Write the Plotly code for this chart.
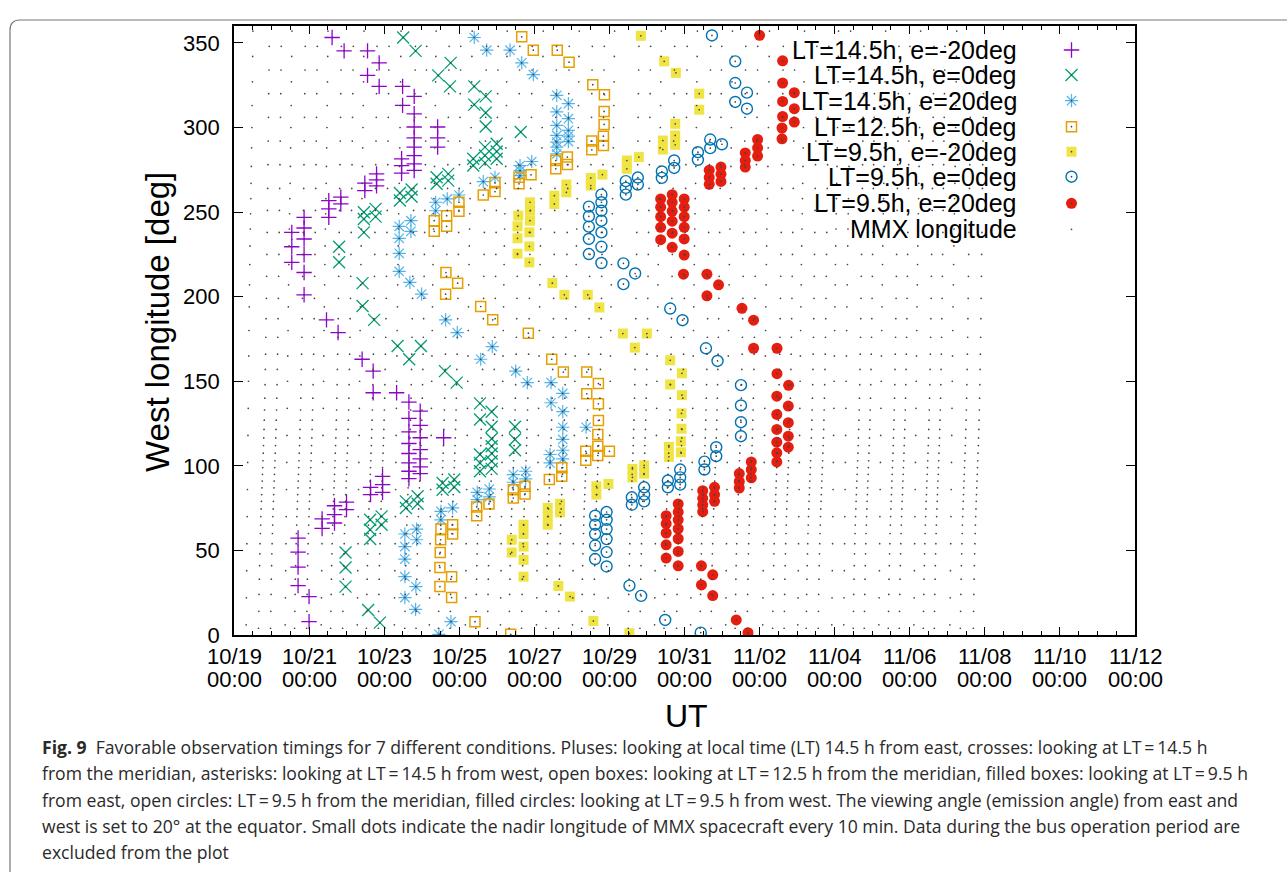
import pandas as pd
import plotly.graph_objects as go

T0 = pd.Timestamp("2024-10-19 00:00")

# ---------------- data: day offset from 10/19 00:00 UT, west longitude [deg] ----------------
# LT=14.5h, e=-20deg (pluses)
s1_day = [2.613, 2.933, 3.557, 3.867, 3.557, 3.867, 4.491, 4.491, 4.8, 4.8,
          4.8, 4.8, 4.8, 4.8, 4.8, 4.8, 4.464, 4.464, 4.464, 5.424, 5.424, 5.424,
          3.797, 3.797, 3.797, 3.485, 3.485, 2.845, 2.845, 2.525, 2.525, 2.525,
          1.867, 1.867, 1.867, 1.867, 1.867, 1.867, 1.539, 1.539, 1.539,
          2.464, 2.773, 3.413, 3.707, 3.707, 4.331, 4.659, 4.96,
          4.659, 4.659, 4.659, 4.659, 4.659, 4.659, 4.659,
          4.96, 4.96, 4.96, 4.96, 4.96, 4.96, 5.584,
          3.957, 3.957, 3.957, 3.637, 3.637, 2.997, 2.997, 2.677, 2.677, 2.677,
          2.347, 2.347, 1.707, 1.707, 1.707, 1.707, 2.0, 2.0]
s1_lon = [353.2, 345.3, 345.3, 338.2, 330.8, 324.3, 324.3, 313.1, 318.4, 308.1,
          300.3, 293.9, 288.4, 283.4, 278.5, 274.6, 281.5, 277.5, 273.0, 300.3, 293.9, 288.4,
          272.6, 269.0, 265.5, 267.1, 262.7, 258.8, 254.8, 256.8, 251.9, 246.9,
          246.9, 240.6, 234.1, 224.8, 214.3, 201.1, 238.0, 229.5, 220.3,
          186.3, 178.8, 163.0, 156.0, 143.2, 143.2, 137.7, 132.3,
          128.0, 120.1, 113.2, 107.3, 101.7, 96.8, 92.4,
          123.9, 116.6, 109.6, 104.1, 99.4, 95.4, 116.6,
          93.8, 88.9, 84.3, 87.3, 83.0, 78.6, 74.1, 76.4, 71.1, 66.2,
          68.6, 63.0, 57.3, 49.0, 40.1, 29.2, 22.7, 7.9]

# LT=14.5h, e=0deg (crosses)
s2_day = [4.507, 4.837, 5.771, 5.44, 5.752, 6.4, 6.4, 6.704, 6.704, 6.704,
          6.685, 6.685, 6.685, 6.997, 6.997, 6.997, 6.373, 6.373, 7.637,
          5.707, 5.707, 5.397, 5.397, 4.731, 4.731, 4.419, 4.419,
          3.771, 3.771, 3.459, 3.459, 3.459, 2.8, 2.8, 3.424, 3.424,
          3.733, 4.357, 4.979, 4.667, 5.619, 5.931,
          6.552, 6.552, 6.552, 6.552, 6.552,
          6.864, 6.864, 6.864, 6.864, 6.864, 6.864, 6.864,
          7.485, 7.485, 7.485, 5.557, 5.557, 5.867, 5.867,
          4.579, 4.579, 4.891, 4.891, 3.627, 3.627, 3.627, 3.931, 3.931,
          2.971, 2.971, 2.971, 3.573, 3.885]
s2_lon = [353.2, 345.3, 338.2, 330.8, 324.3, 324.3, 313.5, 318.4, 308.7, 300.6,
          288.4, 283.4, 279.1, 290.4, 285.8, 281.5, 281.5, 277.5, 297.3,
          272.6, 268.6, 270.6, 266.7, 263.3, 259.1, 261.3, 256.8,
          251.9, 247.3, 249.9, 245.9, 238.0, 229.5, 220.3, 208.0, 194.5,
          186.3, 170.8, 170.8, 163.0, 156.0, 149.2,
          136.9, 127.4, 106.7, 101.7, 96.8,
          132.0, 123.1, 116.0, 111.6, 107.3, 102.7, 98.2,
          123.1, 115.6, 109.2, 89.9, 85.9, 91.9, 87.5,
          79.0, 75.1, 82.0, 77.6, 68.1, 62.2, 56.7, 70.1, 65.2,
          48.8, 39.9, 28.6, 14.8, 7.3]

# LT=14.5h, e=20deg (asterisks)
s3_day = [6.4, 6.731, 7.352, 7.664, 7.973, 8.597, 8.907, 8.597, 8.907, 8.597, 8.907,
          8.597, 8.597, 8.597, 8.597, 8.907, 8.907, 7.931, 7.619, 7.619, 7.619,
          6.64, 6.952, 5.992, 5.68, 5.371, 5.371, 4.712, 4.712,
          4.4, 4.4, 4.4, 4.4, 4.685, 4.997, 5.637, 5.947, 6.571, 6.88, 7.504, 7.813,
          8.445, 8.445, 8.757, 8.757, 8.757, 8.757, 8.757, 8.757, 8.419, 8.419, 9.379,
          7.44, 7.44, 7.771, 7.771, 6.48, 6.48, 6.8, 6.8, 5.512, 5.512, 5.824,
          4.552, 4.552, 4.552, 4.552, 4.552, 4.864, 4.864, 4.845, 4.837, 5.779, 5.459]
s3_lon = [353.2, 345.7, 345.7, 338.2, 331.3, 319.0, 314.1, 309.2, 305.2, 301.2, 298.3,
          295.3, 291.4, 288.4, 284.4, 294.9, 291.7, 279.9, 277.5, 274.5, 271.6,
          268.0, 270.6, 260.1, 257.8, 255.8, 250.8, 244.9, 238.6,
          241.6, 234.5, 225.6, 214.9, 208.4, 201.5, 186.3, 178.8, 163.0, 170.5, 156.0, 149.2,
          149.2, 137.3, 142.8, 132.0, 122.8, 115.6, 109.2, 104.1, 106.7, 101.7, 122.8,
          94.8, 90.3, 96.8, 92.3, 84.3, 80.0, 86.3, 81.6, 73.1, 68.1, 75.1,
          59.7, 52.3, 44.9, 34.5, 22.1, 62.6, 56.3, 28.6, 15.2, 7.9, 0.4]

# LT=12.5h, e=0deg (open boxes)
s4_day = [6.64, 5.992, 5.992, 5.664, 5.664, 5.333, 5.333, 5.645, 5.957, 5.637, 6.571,
          7.664, 7.973, 8.611, 8.925, 9.557, 9.867, 9.859, 9.859, 9.84, 9.84, 9.531, 9.531,
          8.88, 8.88, 8.571, 8.571, 7.912, 7.592, 7.592, 6.952, 6.952,
          6.891, 7.84, 8.464, 8.773, 9.397, 9.397, 9.707, 9.707, 9.707,
          9.691, 9.691, 9.691, 9.371, 9.371, 10.0, 8.731, 8.731, 8.4, 7.752, 7.752,
          7.44, 7.44, 6.792, 6.464, 6.464, 5.512, 5.824, 5.824, 5.504, 5.493, 5.485,
          5.797, 5.485, 5.797, 6.419, 7.371]
s4_lon = [260.1, 255.8, 250.5, 247.9, 241.6, 244.9, 238.6, 214.3, 208.0, 201.5, 194.2,
          353.6, 345.7, 345.7, 338.6, 325.3, 319.4, 309.5, 301.8, 294.9, 289.4, 292.0, 286.8,
          282.5, 278.1, 280.5, 275.6, 272.0, 270.6, 266.7, 267.3, 262.1,
          186.3, 178.4, 163.0, 155.4, 155.4, 142.6, 148.6, 136.7, 126.8,
          118.5, 111.6, 106.1, 108.6, 103.3, 108.6, 98.8, 93.8, 91.9, 87.9, 83.4,
          85.9, 81.0, 77.5, 75.7, 70.5, 62.6, 65.2, 59.7, 56.3, 48.8, 39.9,
          34.5, 28.6, 22.1, 7.9, 0.4]

# LT=9.5h, e=-20deg (filled boxes)
s5_day = [10.837, 11.459, 11.771, 12.392, 12.392, 11.752, 11.752, 11.752, 11.424, 11.424,
          10.784, 10.464, 10.464, 9.813, 9.504, 9.504, 8.853, 8.853, 8.533, 8.533,
          7.885, 7.885, 7.885, 7.573, 7.552, 7.552, 7.552, 7.867, 7.867, 7.867,
          8.48, 8.8, 9.424, 9.733, 10.357, 10.997, 10.677, 11.619, 11.931, 11.619, 11.931,
          11.92, 11.92, 11.904, 11.904, 11.584, 11.584, 10.925, 10.925, 10.613, 10.613,
          9.973, 9.653, 9.653, 8.685, 8.685, 8.357, 8.357, 8.357,
          7.712, 7.712, 7.712, 7.712, 7.712, 7.397, 7.397, 8.64, 8.952, 9.573, 10.533]
s5_lon = [354.2, 339.1, 332.3, 320.0, 310.5, 302.2, 295.3, 289.8, 292.3, 287.0,
          282.5, 280.5, 275.6, 272.2, 270.2, 265.7, 266.3, 261.7, 259.7, 254.8,
          255.8, 250.8, 244.9, 247.9, 241.6, 234.5, 225.4, 238.0, 229.7, 220.3,
          208.0, 201.1, 201.1, 193.6, 178.2, 178.2, 169.9, 162.4, 154.7, 148.1, 141.8,
          131.0, 121.9, 114.5, 108.0, 111.2, 105.3, 100.3, 95.4, 98.2, 93.2,
          89.3, 87.9, 83.0, 77.6, 72.5, 75.1, 70.1, 65.2,
          65.2, 59.7, 52.3, 44.4, 34.5, 56.3, 48.8, 29.0, 22.7, 8.3, 1.0]

# LT=9.5h, e=0deg (open circles)
s6_day = [12.731, 13.352, 13.352, 13.352, 13.664, 13.664, 12.685, 12.685, 12.997,
          12.357, 12.357, 11.725, 11.725, 11.397, 11.397, 10.757, 10.757,
          10.437, 10.437, 10.437, 9.787, 9.787, 9.787, 9.787, 9.787, 9.787, 9.787,
          9.453, 9.453, 9.453, 9.453, 9.453, 10.373, 10.685, 10.373, 11.619, 11.947,
          12.571, 12.88, 13.504, 13.504, 13.504, 13.504, 12.845, 12.845, 12.531, 12.531,
          11.885, 11.885, 11.885, 11.557, 11.557, 10.925, 10.925, 10.925, 10.597, 10.597,
          9.925, 9.925, 9.925, 9.925, 9.925, 9.925, 9.619, 9.619, 9.619, 9.619, 9.619,
          10.533, 10.845, 11.485, 12.432]
s6_lon = [354.4, 339.1, 326.3, 315.1, 320.6, 311.1, 292.9, 287.8, 290.1,
          285.4, 280.9, 280.5, 276.1, 274.0, 270.2, 270.4, 266.3,
          268.3, 264.3, 260.3, 260.3, 255.8, 250.8, 244.9, 238.0, 229.5, 219.9,
          253.2, 247.5, 241.4, 234.1, 225.2, 219.7, 213.7, 207.4, 193.0, 186.1,
          169.5, 162.0, 147.7, 135.7, 125.8, 117.5, 111.0, 105.7, 102.5, 97.8,
          97.8, 93.2, 88.9, 91.3, 87.3, 87.3, 83.0, 79.0, 81.4, 77.0,
          72.7, 68.1, 62.6, 56.7, 49.0, 40.5, 70.5, 65.2, 59.7, 52.9, 44.9,
          29.2, 23.1, 8.9, 1.4]

# LT=9.5h, e=20deg (filled circles)
s7_day = [14.0, 14.613, 14.613, 14.613, 14.613, 14.925, 14.925, 14.925, 14.597, 14.597,
          13.947, 13.947, 13.947, 13.619, 13.619, 13.619, 12.971, 12.971, 12.971,
          12.659, 12.659, 12.659, 11.365, 11.365, 11.365, 11.365, 11.365,
          11.672, 11.672, 11.672, 11.672, 11.672, 11.672,
          11.992, 11.992, 11.992, 11.992, 11.992, 11.992,
          11.973, 12.597, 12.907, 12.597, 13.531, 13.84, 13.84, 14.464, 14.464, 14.773,
          14.459, 14.459, 14.459, 14.459, 14.459, 14.459, 14.765, 14.765, 14.765, 14.765,
          13.459, 13.459, 13.459, 13.779, 13.779, 13.779,
          12.485, 12.485, 12.485, 12.485, 12.8, 12.8, 12.8,
          11.512, 11.512, 11.512, 11.512, 11.512,
          11.832, 11.832, 11.832, 11.832, 11.832, 11.832, 11.832,
          12.451, 12.752, 12.451, 12.752, 13.379, 13.691]
s7_lon = [354.5, 339.4, 326.3, 315.4, 306.5, 320.6, 311.1, 303.2, 299.7, 293.3,
          292.9, 288.0, 283.1, 285.0, 280.5, 276.6, 276.6, 272.4, 268.1,
          274.8, 270.5, 266.4, 257.8, 252.9, 247.3, 241.0, 233.7,
          260.3, 255.8, 250.5, 244.6, 237.5, 229.2,
          257.8, 252.9, 247.3, 241.0, 234.1, 224.6,
          213.3, 213.3, 207.0, 200.5, 193.1, 186.1, 169.5, 169.5, 154.5, 147.6,
          141.2, 130.4, 121.5, 114.0, 107.7, 102.3, 135.3, 125.5, 117.5, 111.0,
          95.4, 90.8, 86.9, 102.3, 97.8, 92.9,
          85.3, 80.8, 76.9, 72.9, 87.3, 83.0, 79.0,
          70.5, 65.8, 60.3, 53.3, 45.5,
          77.5, 72.7, 68.1, 62.8, 56.9, 49.4, 40.9,
          40.9, 35.6, 29.6, 23.3, 8.9, 1.4]

# MMX nadir longitude, every 10 min: longitudes of consecutive samples in one sweep
mmx_profile_a = [4, 14, 24, 33, 41, 48, 54, 60, 65, 70, 74.5, 79, 83, 87, 91, 95, 99,
                 103, 107.5, 112, 116.5, 121.5, 127, 133, 140, 148, 157, 166, 176, 187,
                 199, 212, 225, 238, 251, 264, 278, 292, 306, 320, 334, 348]
mmx_profile_b = [6, 22, 38, 54, 70, 86, 102, 118, 134, 150, 165, 180, 194, 207, 219,
                 230, 240, 249, 258, 267, 277, 288, 300, 313, 327, 342, 357]
# day offsets at which each sweep crosses ~100 deg
mmx_cols_a = [0.765, 1.085, 1.725, 2.045, 2.685, 3.005, 3.637, 3.957, 4.659, 4.96,
              5.557, 5.867, 6.552, 6.864, 7.44, 7.771, 8.419, 8.757, 9.371, 9.691,
              10.613, 10.925, 11.565, 11.899, 12.525, 12.819, 13.459, 13.779, 14.459,
              14.765, 15.352, 15.672, 16.605, 16.899, 17.539, 17.832, 18.472, 18.765,
              19.459, 19.805]
mmx_cols_b = [0.365, 1.405, 2.365, 3.325, 4.312, 5.245, 6.205, 7.139, 8.099, 9.059,
              10.0, 11.245, 12.205, 13.139, 14.125, 15.059, 15.965, 16.285, 17.219,
              18.152, 19.112]

series_names = ["LT=14.5h, e=-20deg", "LT=14.5h, e=0deg", "LT=14.5h, e=20deg",
                "LT=12.5h, e=0deg", "LT=9.5h, e=-20deg", "LT=9.5h, e=0deg",
                "LT=9.5h, e=20deg", "MMX longitude"]

# x tick labels (every 2 days from 10/19)
tick_days = [0, 2, 4, 6, 8, 10, 12, 14, 16, 18, 20, 22, 24]
tick_dates = ["10/19", "10/21", "10/23", "10/25", "10/27", "10/29", "10/31",
              "11/02", "11/04", "11/06", "11/08", "11/10", "11/12"]
tick_times = ["00:00"] * 13

# ---------------- styling ----------------
styles = [
    dict(symbol="cross-thin-open", size=11, color="#9400d3", line=dict(width=1.3, color="#9400d3")),
    dict(symbol="x-thin-open", size=12, color="#009e73", line=dict(width=1.3, color="#009e73")),
    dict(symbol="asterisk-open", size=11, color="#56b4e9", line=dict(width=1.2, color="#56b4e9")),
    dict(symbol="square-open", size=10, color="#e69f00", line=dict(width=1.5, color="#e69f00")),
    dict(symbol="square", size=10, color="#f0e442", line=dict(width=0)),
    dict(symbol="circle-open", size=11, color="#0072b2", line=dict(width=1.4, color="#0072b2")),
    dict(symbol="circle", size=11, color="#e51e10", line=dict(width=0)),
]
mmx_style = dict(symbol="circle", size=1.7, color="#444444", line=dict(width=0))

W, H = 1287, 872
L, R, T, B = 234, 1135, 26, 635
FONT = "Liberation Sans, Arial, sans-serif"


def px(xp, yp):
    return (xp - L) / (R - L), (B - yp) / (B - T)


def to_time(days):
    return [T0 + pd.Timedelta(days=d) for d in days]


fig = go.Figure()

all_days = [s1_day, s2_day, s3_day, s4_day, s5_day, s6_day, s7_day]
all_lons = [s1_lon, s2_lon, s3_lon, s4_lon, s5_lon, s6_lon, s7_lon]
for name, d, lon, st in zip(series_names, all_days, all_lons, styles):
    fig.add_trace(go.Scatter(x=to_time(d), y=lon, mode="markers", name=name,
                             marker=st, showlegend=False, hoverinfo="skip"))

# MMX sweeps
mx, my = [], []
for prof, cols in ((mmx_profile_a, mmx_cols_a), (mmx_profile_b, mmx_cols_b)):
    iref = min(range(len(prof)), key=lambda i: abs(prof[i] - 100))
    for c in cols:
        for i, lon in enumerate(prof):
            mx.append(c + (i - iref) * 10.0 / 1440.0)
            my.append(lon)
# the observation points are MMX samples too
for d, lon in zip(all_days, all_lons):
    mx += d
    my += lon
fig.add_trace(go.Scatter(x=to_time(mx), y=my, mode="markers", name=series_names[7],
                         marker=mmx_style, showlegend=False, hoverinfo="skip"))

# custom gnuplot-style key (text right, symbol at right)
key_rows_px = [50, 75, 100.7, 126.7, 151.7, 176.7, 203.3, 229.3]
kx_text, _ = px(1019, 0)
kx_sym, _ = px(1071.5, 0)
for i, name in enumerate(series_names):
    _, ky = px(0, key_rows_px[i])
    fig.add_annotation(x=kx_text, y=ky, xref="paper", yref="paper", text=name,
                       showarrow=False, xanchor="right", yanchor="middle",
                       font=dict(family=FONT, size=25, color="black"))
    st = styles[i] if i < 7 else mmx_style
    fig.add_trace(go.Scatter(x=[kx_sym], y=[ky], xaxis="x2", yaxis="y2", mode="markers",
                             marker=st, showlegend=False, hoverinfo="skip"))
    if i < 7:
        fig.add_trace(go.Scatter(x=[kx_sym], y=[ky], xaxis="x2", yaxis="y2", mode="markers",
                                 marker=dict(symbol="circle", size=1.7, color="#444"),
                                 showlegend=False, hoverinfo="skip"))

tickfont = dict(family=FONT, size=22, color="black")
fig.update_layout(
    width=W, height=H, autosize=False,
    margin=dict(l=L, r=W - R, t=T, b=H - B, pad=0),
    paper_bgcolor="white", plot_bgcolor="white",
    showlegend=False,
    xaxis=dict(type="date", range=[T0, T0 + pd.Timedelta(days=24)],
               tick0=T0, dtick=2 * 86400000, showticklabels=False,
               ticks="inside", ticklen=8, tickwidth=1.3, tickcolor="black",
               minor=dict(dtick=43200000, ticks="inside", ticklen=4, tickwidth=1.0, tickcolor="black"),
               showline=True, linecolor="black", linewidth=1.6, mirror="allticks",
               showgrid=False, zeroline=False),
    yaxis=dict(range=[0, 360], tickvals=[0, 50, 100, 150, 200, 250, 300, 350],
               ticks="inside", ticklen=9, tickwidth=1.3, tickcolor="black",
               showline=True, linecolor="black", linewidth=1.6, mirror="allticks",
               showgrid=False, zeroline=False, tickfont=tickfont, ticklabelstandoff=8),
    xaxis2=dict(overlaying="x", range=[0, 1], visible=False),
    yaxis2=dict(overlaying="y", range=[0, 1], visible=False),
)

# two-line x tick labels with tight line spacing
_, y_date = px(0, 656)
_, y_time = px(0, 679)
for dd, s_date, s_time in zip(tick_days, tick_dates, tick_times):
    tx = T0 + pd.Timedelta(days=dd)
    fig.add_annotation(x=tx, y=y_date, xref="x", yref="paper", text=s_date, showarrow=False,
                       xanchor="center", yanchor="middle", font=tickfont)
    fig.add_annotation(x=tx, y=y_time, xref="x", yref="paper", text=s_time, showarrow=False,
                       xanchor="center", yanchor="middle", font=tickfont)

# axis titles
ax, ay = px(157, 322)
fig.add_annotation(x=ax, y=ay, xref="paper", yref="paper", text="West longitude [deg]",
                   textangle=-90, showarrow=False, xanchor="center", yanchor="middle",
                   font=dict(family=FONT, size=33, color="black"))
ux, uy = px(686, 716)
fig.add_annotation(x=ux, y=uy, xref="paper", yref="paper", text="UT",
                   showarrow=False, xanchor="center", yanchor="middle",
                   font=dict(family=FONT, size=32, color="black"))

# caption
cap_lines = [
    "<b>Fig. 9</b>  Favorable observation timings for 7 different conditions. Pluses: looking at local time (LT) 14.5 h from east, crosses: looking at LT\u2009=\u200914.5 h",
    "from the meridian, asterisks: looking at LT\u2009=\u200914.5 h from west, open boxes: looking at LT\u2009=\u200912.5 h from the meridian, filled boxes: looking at LT\u2009=\u20099.5 h",
    "from east, open circles: LT\u2009=\u20099.5 h from the meridian, filled circles: looking at LT\u2009=\u20099.5 h from west. The viewing angle (emission angle) from east and",
    "west is set to 20\u00b0 at the equator. Small dots indicate the nadir longitude of MMX spacecraft every 10 min. Data during the bus operation period are",
    "excluded from the plot",
]
cap_y = [747, 773, 800, 826, 852]
for t, yy in zip(cap_lines, cap_y):
    cx, cy = px(40, yy)
    fig.add_annotation(x=cx, y=cy, xref="paper", yref="paper", text=t, showarrow=False,
                       xanchor="left", yanchor="middle",
                       font=dict(family="Open Sans, sans-serif", size=17.6, color="#2a2a2a"))

# page frame (left rule and rounded top rule)
def pp(xp, yp):
    a, b = px(xp, yp)
    return f"{a:.5f},{b:.5f}"

fig.add_shape(type="path", xref="paper", yref="paper",
              path=f"M {pp(10, 872)} L {pp(10, 30)} Q {pp(10, 20)} {pp(20, 20)} L {pp(1287, 20)}",
              line=dict(color="#777777", width=1.2))

fig.write_html("out.html")
